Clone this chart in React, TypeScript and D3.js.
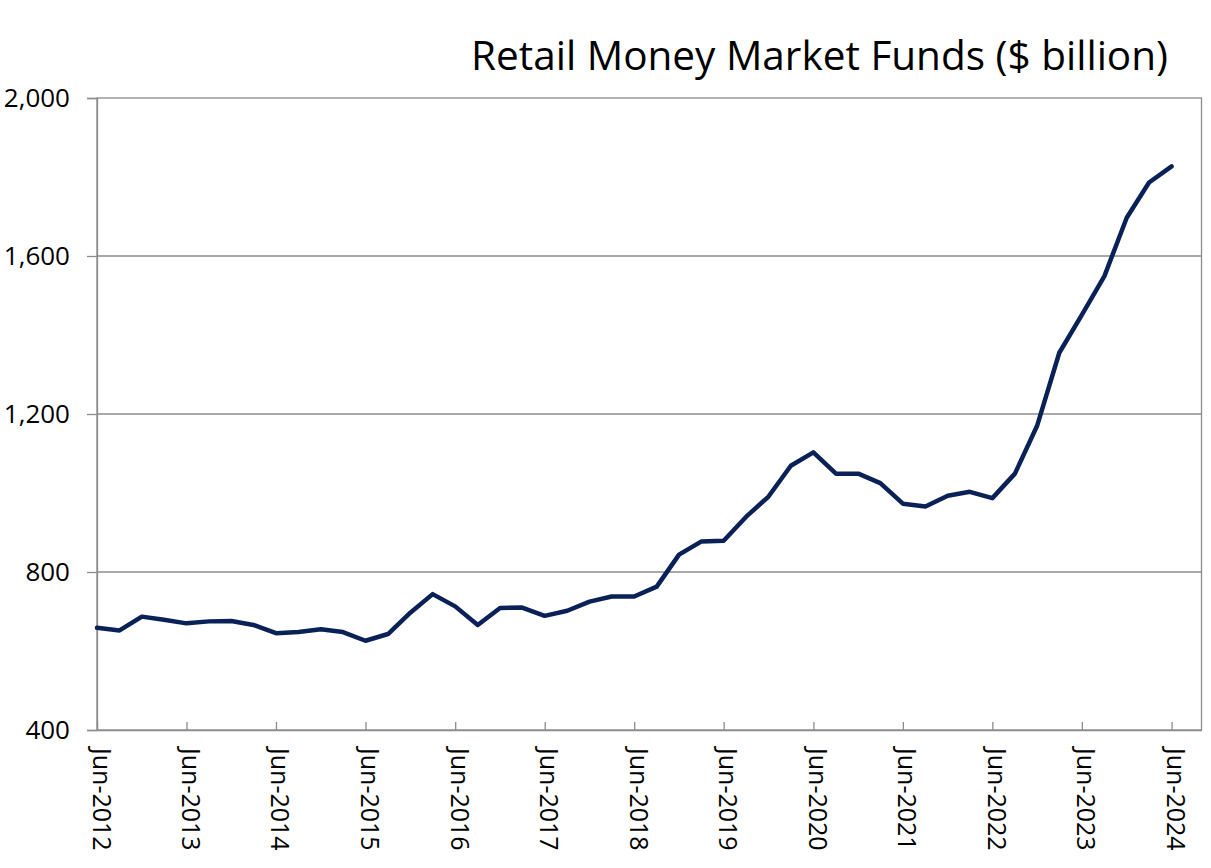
import React, { useEffect, useRef } from "react";
import * as d3 from "d3";

// quarterly observations, Jun-2012 .. Jun-2024
const quarters: string[] = [
  "2012-06", "2012-09", "2012-12",
  "2013-03", "2013-06", "2013-09", "2013-12",
  "2014-03", "2014-06", "2014-09", "2014-12",
  "2015-03", "2015-06", "2015-09", "2015-12",
  "2016-03", "2016-06", "2016-09", "2016-12",
  "2017-03", "2017-06", "2017-09", "2017-12",
  "2018-03", "2018-06", "2018-09", "2018-12",
  "2019-03", "2019-06", "2019-09", "2019-12",
  "2020-03", "2020-06", "2020-09", "2020-12",
  "2021-03", "2021-06", "2021-09", "2021-12",
  "2022-03", "2022-06", "2022-09", "2022-12",
  "2023-03", "2023-06", "2023-09", "2023-12",
  "2024-03", "2024-06",
];

const retailMMF: number[] = [
  659, 652, 687,
  679, 670, 675, 676,
  666, 645, 648, 655,
  648, 626, 643, 697,
  744, 713, 666, 709,
  710, 689, 702, 725,
  738, 738, 763, 844,
  877, 879, 940, 991,
  1069, 1103, 1049, 1049,
  1025, 973, 966, 993,
  1003, 987, 1049, 1171,
  1355, 1451, 1549, 1697,
  1786, 1827,
];

const xTickDates: string[] = [
  "2012-06", "2013-06", "2014-06", "2015-06", "2016-06", "2017-06", "2018-06",
  "2019-06", "2020-06", "2021-06", "2022-06", "2023-06", "2024-06",
];
const yTicks: number[] = [400, 800, 1200, 1600, 2000];

const title = "Retail Money Market Funds ($ billion)";

const W = 1211;
const H = 868;
const plot = { left: 97, right: 1201.5, top: 98, bottom: 730 };
const FONT = "'Open Sans', 'Noto Sans', sans-serif";

export default function App() {
  const ref = useRef<SVGSVGElement>(null);

  useEffect(() => {
    const svg = d3.select(ref.current);
    svg.selectAll("*").remove();
    const parse = d3.timeParse("%Y-%m");

    const x = d3
      .scaleTime()
      .domain([parse("2012-06")!, parse("2024-10")!])
      .range([plot.left, plot.right]);
    const y = d3.scaleLinear().domain([400, 2000]).range([plot.bottom, plot.top]);

    const data = quarters.map((q, i) => ({ date: parse(q)!, value: retailMMF[i] }));

    // frame + gridlines
    svg
      .append("rect")
      .attr("x", plot.left)
      .attr("y", plot.top)
      .attr("width", plot.right - plot.left)
      .attr("height", plot.bottom - plot.top)
      .attr("fill", "none")
      .attr("stroke", "#8c8c8c")
      .attr("stroke-width", 1.3);

    const yAxis = svg
      .append("g")
      .attr("transform", `translate(${plot.left},0)`)
      .call(
        d3
          .axisLeft(y)
          .tickValues(yTicks)
          .tickSize(10)
          .tickPadding(17)
          .tickFormat((d) => d3.format(",")(d as number))
      );
    yAxis.select(".domain").attr("stroke", "#8c8c8c").attr("stroke-width", 1.3);
    yAxis.selectAll(".tick line").attr("stroke", "#8c8c8c").attr("stroke-width", 1.3);
    yAxis
      .selectAll(".tick text")
      .attr("font-family", FONT)
      .attr("font-size", 26)
      .attr("fill", "#000");

    svg
      .append("g")
      .selectAll("line")
      .data(yTicks.filter((t) => t > 400 && t < 2000))
      .join("line")
      .attr("x1", plot.left)
      .attr("x2", plot.right)
      .attr("y1", (d) => y(d))
      .attr("y2", (d) => y(d))
      .attr("stroke", "#8c8c8c")
      .attr("stroke-width", 1.3);

    const xAxis = svg
      .append("g")
      .attr("transform", `translate(0,${plot.bottom})`)
      .call(
        d3
          .axisBottom(x)
          .tickValues(xTickDates.map((d) => parse(d)!))
          .tickSizeInner(-8)
          .tickSizeOuter(0)
          .tickFormat((d) => d3.timeFormat("%b-%Y")(d as Date))
      );
    xAxis.select(".domain").attr("stroke", "#8c8c8c").attr("stroke-width", 1.3);
    xAxis.selectAll(".tick line").attr("stroke", "#8c8c8c").attr("stroke-width", 1.3);
    xAxis
      .selectAll(".tick text")
      .attr("font-family", FONT)
      .attr("font-size", 25)
      .attr("fill", "#000")
      .attr("text-anchor", "start")
      .attr("transform", "rotate(90)")
      .attr("x", 18)
      .attr("y", 0)
      .attr("dy", "0.2em")
      .attr("dx", 0);

    const line = d3
      .line<{ date: Date; value: number }>()
      .x((d) => x(d.date))
      .y((d) => y(d.value));

    svg
      .append("path")
      .datum(data)
      .attr("d", line)
      .attr("fill", "none")
      .attr("stroke", "#0a2158")
      .attr("stroke-width", 4.5)
      .attr("stroke-linejoin", "round")
      .attr("stroke-linecap", "round");

    svg
      .append("text")
      .attr("x", 1168)
      .attr("y", 70)
      .attr("text-anchor", "end")
      .attr("font-family", FONT)
      .attr("font-size", 40.5)
      .attr("fill", "#000")
      .text(title);
  }, []);

  return (
    <svg
      ref={ref}
      width={W}
      height={H}
      style={{ position: "absolute", left: 0, top: 0, background: "#fff" }}
    />
  );
}
